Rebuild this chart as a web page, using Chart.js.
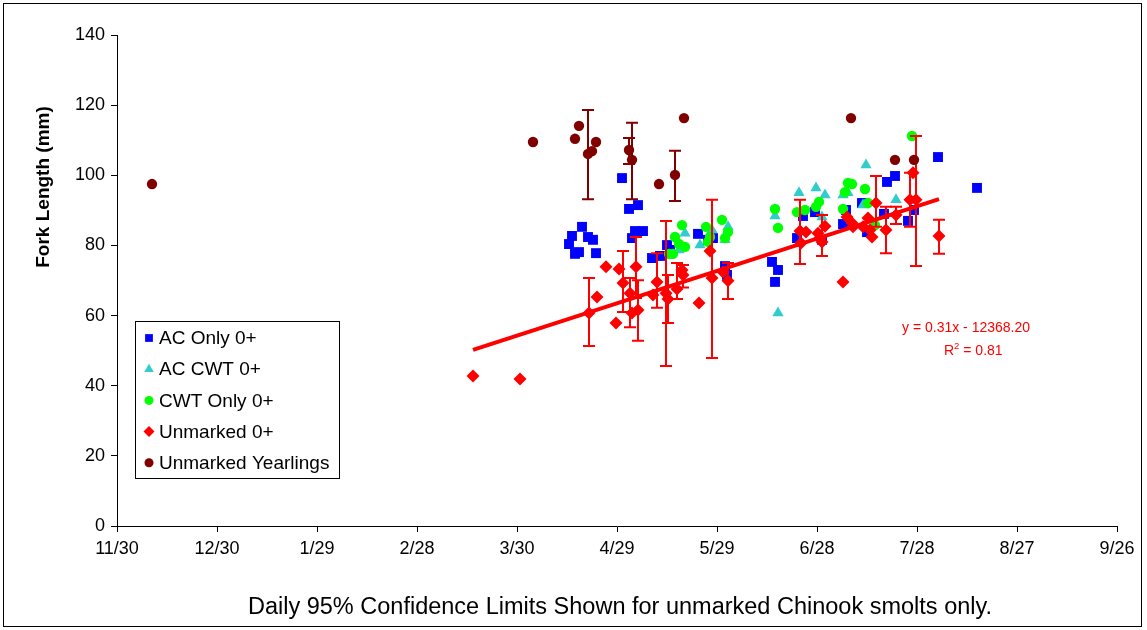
<!DOCTYPE html>
<html>
<head>
<meta charset="utf-8">
<script src="https://cdn.jsdelivr.net/npm/chart.js@4.4.1/dist/chart.umd.min.js"></script>
<style>
  html, body { margin: 0; padding: 0; background: #fff; }
  canvas { display: block; }
</style>
</head>
<body>
<canvas id="chart" width="1147" height="630"></canvas>
<script>
// x values are days after 11/30
const xTickLabels = ['11/30', '12/30', '1/29', '2/28', '3/30', '4/29', '5/29', '6/28', '7/28', '8/27', '9/26'];

const acOnlyX = [135.6, 136.5, 139.5, 137.4, 138.6, 141.3, 142.8, 143.7, 151.5, 153.6, 156.3, 154.5, 155.4, 157.8,
  160.5, 162.9, 165.0, 165.9, 174.3, 177.3, 178.8, 182.4, 183.0, 196.5, 198.3, 197.4, 204.0, 205.8, 209.4, 211.5,
  217.8, 218.7, 223.5, 225.0, 230.1, 231.0, 233.4, 237.3, 239.1, 246.3, 258.0];
const acOnlyY = [80.4, 82.7, 85.3, 77.6, 78.1, 82.4, 81.6, 77.8, 99.2, 90.4, 91.5, 82.1, 84.1, 84.1,
  76.4, 77.0, 80.1, 78.7, 83.3, 81.6, 82.1, 74.1, 71.6, 75.3, 73.0, 69.6, 82.1, 88.4, 89.5, 81.6,
  86.1, 90.1, 92.1, 83.8, 89.0, 98.1, 99.8, 87.0, 90.1, 105.2, 96.4];

const acCwtX = [168.6, 170.4, 174.9, 178.5, 183.3, 182.4, 197.4, 198.3, 204.6, 209.7, 212.4, 211.5, 217.8, 219.3, 224.7, 223.8, 233.7];
const acCwtY = [78.7, 83.5, 80.1, 84.4, 85.3, 81.6, 88.4, 60.7, 95.0, 96.4, 94.4, 88.1, 94.4, 95.0, 102.9, 91.5, 93.0];

const cwtOnlyX = [169.5, 167.4, 168.6, 170.4, 165.6, 166.8, 176.7, 177.9, 177.3, 181.5, 183.3, 182.4, 197.4, 198.3,
  204.0, 206.4, 209.7, 210.6, 219.3, 220.5, 218.4, 224.4, 217.8, 225.3, 227.4, 238.5];
const cwtOnlyY = [85.8, 82.4, 80.4, 79.6, 77.6, 77.6, 85.3, 82.4, 81.0, 87.3, 83.8, 82.1, 90.4, 85.0,
  89.5, 90.1, 91.0, 92.4, 97.8, 97.5, 95.2, 96.1, 90.4, 92.1, 85.8, 111.2];

const unmarkedX = [106.8, 120.9, 141.6, 144.0, 146.7, 149.7, 150.6, 151.8, 153.9, 154.5, 155.7, 156.3, 160.8, 162.0,
  164.7, 165.3, 168.0, 169.5, 169.8, 174.6, 177.9, 178.5, 181.8, 183.3, 204.9, 206.7, 205.2, 210.3, 210.9, 212.4,
  211.5, 217.8, 219.0, 220.5, 220.8, 223.8, 225.3, 225.9, 226.5, 227.7, 230.7, 233.7, 237.9, 238.8, 239.7, 246.6];
const unmarkedY = [42.8, 41.9, 60.7, 65.3, 73.9, 57.9, 73.3, 69.3, 66.4, 60.7, 73.9, 61.6, 65.9, 69.6,
  66.4, 64.7, 67.6, 73.0, 71.6, 63.6, 78.4, 70.7, 72.4, 69.9, 84.1, 83.8, 80.7, 83.5, 82.1, 85.5,
  81.0, 69.6, 88.1, 86.4, 85.3, 85.3, 87.8, 84.4, 82.4, 92.1, 84.4, 88.7, 93.0, 100.7, 93.0, 82.7];
const unmarkedLo = [null, null, 51.3, null, null, null, null, 61.0, 56.7, null, 65.0, 52.8, null, 62.2,
  45.6, 57.9, 64.7, null, 68.0, null, null, 47.9, null, 64.7, 74.7, null, null, null, null, null,
  77.0, null, null, null, null, null, null, null, null, 85.3, 77.8, 86.1, 85.3, null, 74.1, 77.6];
const unmarkedHi = [null, null, 70.7, null, null, null, null, 78.4, 70.7, null, 82.4, 70.1, null, 77.8,
  87.0, 71.6, 75.0, null, 74.4, null, null, 93.0, null, 75.0, 93.0, null, null, null, null, null,
  88.7, null, null, null, null, null, null, null, null, 99.8, 91.0, 91.0, 100.7, null, 111.2, 87.3];

const yearlingX = [10.5, 124.8, 137.4, 138.6, 141.3, 143.7, 142.5, 153.6, 154.5, 162.6, 167.4, 170.1, 220.2, 233.4, 239.1];
const yearlingY = [97.5, 109.5, 110.4, 114.1, 106.1, 109.5, 106.9, 107.2, 104.4, 97.5, 100.1, 116.3, 116.3, 104.4, 104.4];
const yearlingLo = [null, null, null, null, 93.2, null, null, 103.2, 93.2, null, 92.7, null, null, null, null];
const yearlingHi = [null, null, null, null, 118.6, null, null, 110.6, 115.0, null, 107.0, null, null, null, null];

const trendX = [106.8, 246.6];
const trendY = [50.2, 93.2];

const FONT = '"Liberation Sans", Arial, sans-serif';

function pts(xs, ys) {
  return xs.map((x, i) => ({ x, y: ys[i] }));
}

function series(label, xs, ys, color, style, radius, order, lo, hi) {
  return {
    label,
    data: pts(xs, ys),
    backgroundColor: color,
    borderColor: color,
    pointStyle: style,
    pointRadius: radius,
    pointHoverRadius: radius,
    pointBorderWidth: 0,
    showLine: false,
    order,
    errLo: lo,
    errHi: hi,
    legendRadius: style === 'circle' ? 4.5 : 5.5,
  };
}

const datasets = [
  series('AC Only 0+', acOnlyX, acOnlyY, '#0000ff', 'rect', 7, 5),
  series('AC CWT 0+', acCwtX, acCwtY, '#33cccc', 'triangle', 6.5, 4),
  series('CWT Only 0+', cwtOnlyX, cwtOnlyY, '#00ff00', 'circle', 5.2, 3),
  series('Unmarked 0+', unmarkedX, unmarkedY, '#ff0000', 'rectRot', 6.5, 2, unmarkedLo, unmarkedHi),
  series('Unmarked Yearlings', yearlingX, yearlingY, '#800000', 'circle', 5.2, 1, yearlingLo, yearlingHi),
  {
    label: 'trend',
    data: pts(trendX, trendY),
    borderColor: '#ff0000',
    backgroundColor: '#ff0000',
    borderWidth: 4,
    pointRadius: 0,
    showLine: true,
    order: 0,
    isTrend: true,
  },
];

const errorBars = {
  id: 'errorBars',
  beforeDatasetDraw(chart, args) {
    const ds = chart.data.datasets[args.index];
    if (!ds.errLo) return;
    const xs = chart.scales.x, ys = chart.scales.y, ctx = chart.ctx;
    ctx.save();
    ctx.strokeStyle = ds.borderColor;
    ctx.lineWidth = 2;
    ds.data.forEach((p, i) => {
      if (ds.errLo[i] == null) return;
      const px = Math.round(xs.getPixelForValue(p.x));
      const y1 = ys.getPixelForValue(ds.errLo[i]);
      const y2 = ys.getPixelForValue(ds.errHi[i]);
      ctx.beginPath();
      ctx.moveTo(px, y1); ctx.lineTo(px, y2);
      ctx.moveTo(px - 6, y1); ctx.lineTo(px + 6, y1);
      ctx.moveTo(px - 6, y2); ctx.lineTo(px + 6, y2);
      ctx.stroke();
    });
    ctx.restore();
  },
};

const decorations = {
  id: 'decorations',
  afterDraw(chart) {
    const ctx = chart.ctx;
    ctx.save();

    // outer frame
    ctx.strokeStyle = '#000';
    ctx.lineWidth = 1;
    ctx.strokeRect(3.5, 3.5, 1138, 623);

    // y title
    ctx.fillStyle = '#000';
    ctx.font = 'bold 19px ' + FONT;
    ctx.textAlign = 'center';
    ctx.textBaseline = 'middle';
    ctx.translate(44, 187);
    ctx.rotate(-Math.PI / 2);
    ctx.fillText('Fork Length (mm)', 0, 0);
    ctx.setTransform(1, 0, 0, 1, 0, 0);

    // caption
    ctx.font = '23.5px ' + FONT;
    ctx.fillText('Daily 95% Confidence Limits Shown for unmarked Chinook smolts only.', 620, 608);

    // trend equation
    ctx.fillStyle = '#ff0000';
    ctx.textAlign = 'left';
    ctx.font = '14px ' + FONT;
    ctx.fillText('y = 0.31x - 12368.20', 902, 328);
    ctx.fillText('R', 944, 351);
    const wR = ctx.measureText('R').width;
    ctx.font = '9.5px ' + FONT;
    ctx.fillText('2', 944 + wR, 346);
    const w2 = ctx.measureText('2').width;
    ctx.font = '14px ' + FONT;
    ctx.fillText(' = 0.81', 944 + wR + w2, 351);

    // legend
    const lx = 135, ly = 321, lw = 204, lh = 157;
    ctx.fillStyle = '#fff';
    ctx.fillRect(lx, ly, lw, lh);
    ctx.strokeStyle = '#000';
    ctx.strokeRect(lx + 0.5, ly + 0.5, lw, lh);
    ctx.font = '19px ' + FONT;
    ctx.textBaseline = 'middle';
    chart.data.datasets.filter((d) => !d.isTrend).forEach((d, i) => {
      const y = ly + 17 + i * 31.2;
      ctx.fillStyle = d.backgroundColor;
      Chart.helpers.drawPoint(ctx, {
        pointStyle: d.pointStyle,
        radius: d.legendRadius,
        borderWidth: 0,
        rotation: 0,
      }, lx + 14, y);
      ctx.fillStyle = '#000';
      ctx.fillText(d.label, lx + 24, y + 1);
    });
    ctx.restore();
  },
};

new Chart(document.getElementById('chart'), {
  type: 'scatter',
  data: { datasets },
  options: {
    responsive: false,
    animation: false,
    events: [],
    layout: { padding: { left: 0, top: 35, right: 30, bottom: 0 } },
    plugins: {
      legend: { display: false },
      tooltip: { enabled: false },
    },
    scales: {
      x: {
        type: 'linear',
        min: 0,
        max: 300,
        afterFit: (s) => { s.height = 104; },
        afterBuildTicks: (s) => { s.ticks = xTickLabels.map((_, i) => ({ value: i * 30 })); },
        ticks: {
          autoSkip: false,
          maxRotation: 0,
          padding: 6,
          color: '#000',
          font: { family: FONT, size: 18 },
          callback: (v) => xTickLabels[Math.round(v / 30)],
        },
        grid: { drawOnChartArea: false, tickLength: 6, color: '#000' },
        border: { color: '#000', width: 1 },
      },
      y: {
        min: 0,
        max: 140,
        afterFit: (s) => { s.width = 117; },
        ticks: {
          stepSize: 20,
          padding: 6,
          color: '#000',
          font: { family: FONT, size: 18 },
        },
        grid: { drawOnChartArea: false, tickLength: 6, color: '#000' },
        border: { color: '#000', width: 1 },
      },
    },
  },
  plugins: [errorBars, decorations],
});
</script>
</body>
</html>
